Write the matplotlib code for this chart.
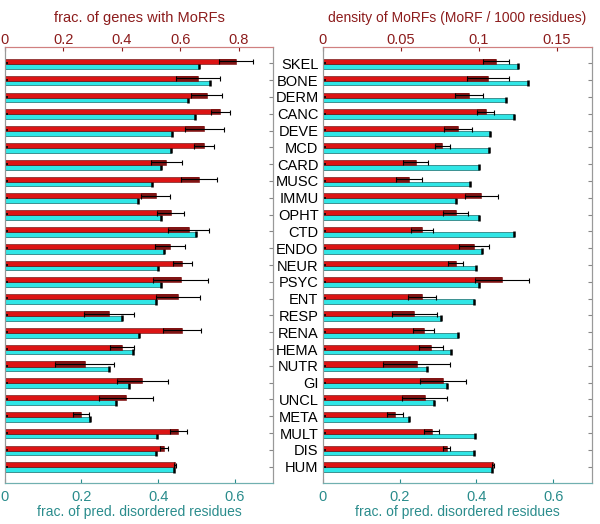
import numpy as np
import matplotlib
matplotlib.use("Agg")
import matplotlib.pyplot as plt

plt.rcParams['font.family'] = ['Liberation Sans', 'DejaVu Sans']

cats = ["SKEL", "BONE", "DERM", "CANC", "DEVE", "MCD", "CARD", "MUSC", "IMMU",
        "OPHT", "CTD", "ENDO", "NEUR", "PSYC", "ENT", "RESP", "RENA", "HEMA",
        "NUTR", "GI", "UNCL", "META", "MULT", "DIS", "HUM"]

# red bars, left panel (top axis)
frac_genes = [0.788, 0.660, 0.689, 0.736, 0.681, 0.681, 0.552, 0.663, 0.515,
              0.567, 0.628, 0.564, 0.607, 0.601, 0.592, 0.355, 0.605, 0.399,
              0.273, 0.470, 0.414, 0.260, 0.593, 0.543, 0.581]
frac_genes_err = [0.058, 0.074, 0.053, 0.032, 0.066, 0.034, 0.053, 0.061, 0.048,
                  0.046, 0.069, 0.052, 0.031, 0.093, 0.076, 0.085, 0.066, 0.041,
                  0.100, 0.088, 0.093, 0.027, 0.030, 0.013, 0.003]

# red bars, right panel (top axis)
density = [0.1111, 0.1060, 0.0938, 0.1045, 0.0868, 0.0767, 0.0596, 0.0553, 0.1017,
           0.0853, 0.0637, 0.0972, 0.0853, 0.1150, 0.0637, 0.0588, 0.0647, 0.0697,
           0.0603, 0.0769, 0.0654, 0.0463, 0.0699, 0.0795, 0.1090]
density_err = [0.0081, 0.0137, 0.0092, 0.0056, 0.0092, 0.0047, 0.0081, 0.0081, 0.0105,
               0.0080, 0.0070, 0.0096, 0.0049, 0.0173, 0.0090, 0.0145, 0.0068, 0.0077,
               0.0214, 0.0147, 0.0143, 0.0049, 0.0047, 0.0022, 0.0005]

# cyan bars, both panels (bottom axis)
frac_disordered = [0.507, 0.534, 0.4765, 0.4965, 0.4365, 0.434, 0.408, 0.3835, 0.347,
                   0.407, 0.498, 0.414, 0.399, 0.408, 0.394, 0.307, 0.351, 0.334,
                   0.271, 0.3235, 0.289, 0.2235, 0.3965, 0.395, 0.4417]

RED = "#dc1414"
DARKRED = "#801414"
CYAN = "#30e6e6"
TOPCOL = "#8c1c1c"
BOTCOL = "#2a8c8c"

fig = plt.figure(figsize=(6, 5.24), dpi=100)
ax_l = fig.add_axes([0.0078, 0.0782, 0.4477, 0.8321])
ax_r = fig.add_axes([0.5378, 0.0782, 0.4484, 0.8321])

y = np.arange(len(cats))


def panel(ax, red, red_err, top_max, top_ticks, top_labels, title, title_size, show_names):
    cy = y + 0.18
    ry = y - 0.11
    ax.barh(cy, frac_disordered, height=0.28, color=CYAN, edgecolor="#1a6a6a", linewidth=0.5)
    ax.plot(frac_disordered, cy, "k|", ms=4.5, mew=1.8)
    ax.set_xlim(0, 0.7)
    ax.set_ylim(24.97, -0.97)
    ax.set_xticks([0, 0.2, 0.4, 0.6])
    ax.set_xticklabels(["0", "0.2", "0.4", "0.6"])
    ax.tick_params(axis="x", direction="in", length=3, colors=BOTCOL, labelsize=10.5, pad=5)
    ax.set_xlabel("frac. of pred. disordered residues", color=BOTCOL, fontsize=10, labelpad=1)

    tw = ax.twiny()
    red = np.array(red)
    red_err = np.array(red_err)
    tw.barh(ry, red, height=0.30, color=RED, edgecolor="#5a0808", linewidth=0.4)
    tw.barh(ry, red_err, left=red - red_err, height=0.30, color=DARKRED, linewidth=0)
    tw.errorbar(red, ry, xerr=red_err, fmt="none", ecolor="k", elinewidth=0.8,
                capsize=1.8, capthick=0.8)
    tw.plot(np.zeros(len(cats)), ry + 0.1, "k_", ms=5, mew=1.2)
    tw.set_xlim(0, top_max)
    tw.set_ylim(24.97, -0.97)
    tw.set_xticks(top_ticks)
    tw.set_xticklabels(top_labels)
    tw.tick_params(axis="x", direction="in", length=3, colors=TOPCOL, labelsize=10.5, pad=0)
    tw.set_xlabel(title, color=TOPCOL, fontsize=title_size, labelpad=8)

    ax.set_yticks(y)
    ax.tick_params(axis="y", direction="in", length=3, color="#888888",
                   left=True, right=True, labelleft=show_names, labelright=False,
                   labelsize=10.5, pad=3)
    if show_names:
        ax.set_yticklabels(cats)
    else:
        ax.set_yticklabels([])
    for a in (ax, tw):
        a.spines["top"].set_color("#d08080")
        a.spines["bottom"].set_color("#70b0b0")
        a.spines["left"].set_color("#999999")
        a.spines["right"].set_color("#999999")


panel(ax_l, frac_genes, frac_genes_err, 0.917, [0, 0.2, 0.4, 0.6, 0.8],
      ["0", "0.2", "0.4", "0.6", "0.8"], "frac. of genes with MoRFs", 10.5, False)
panel(ax_r, density, density_err, 0.1724, [0, 0.05, 0.1, 0.15],
      ["0", "0.05", "0.1", "0.15"], "density of MoRFs (MoRF / 1000 residues)", 10, True)

fig.savefig("out.png", dpi=100)
